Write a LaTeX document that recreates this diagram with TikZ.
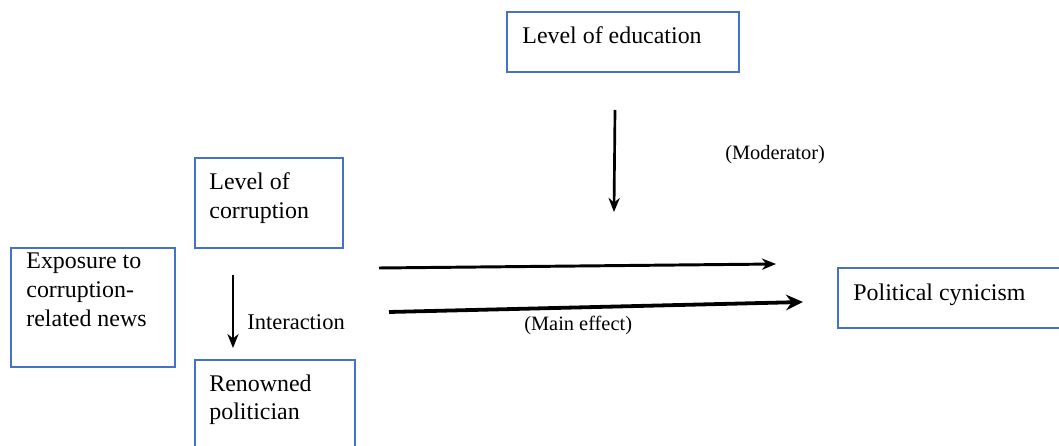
\documentclass[tikz,border=0pt]{standalone}
\usepackage{fontspec}
\setmainfont{Liberation Serif}
\usepackage{tikz}
\usetikzlibrary{arrows.meta,positioning}
\definecolor{boxblue}{RGB}{68,114,196}
\tikzstyle{var box} = [rectangle, draw=boxblue, line width=1.2pt]
\tikzstyle{var text} = [inner sep=0pt, anchor=north west, align=left, font=\fontsize{17}{20.6}\selectfont]
\tikzstyle{small text} = [inner sep=0pt, anchor=base west, font=\fontsize{14.5}{16}\selectfont]
\tikzstyle{arrow} = [->,>={Stealth[length=10pt,width=8pt]}]

\begin{document}
\begin{tikzpicture}[x=0.025cm, y=-0.025cm]
    \useasboundingbox (0,0) rectangle (1059,446);
    \clip (0,0) rectangle (1059,446);

    % boxes
    \node (edu) [var box, minimum width=5.8cm, minimum height=1.5cm] at (623,42) { };
    \node (edut) [var text] at ([shift={(16,15)}]edu.north west) {Level of education};
    \node (corr) [var box, minimum width=3.7cm, minimum height=2.25cm] at (269,203) { };
    \node (corrt) [var text] at ([shift={(15,15)}]corr.north west) {Level of\\corruption};
    \node (expo) [var box, minimum width=4.1cm, minimum height=2.975cm] at (93,307.5) { };
    \node (expot) [var text] at ([shift={(16,5)}]expo.north west) {Exposure to\\corruption-\\related news};
    \node (ren) [var box, minimum width=4cm, minimum height=2.875cm] at (275,417.5) { };
    \node (rent) [var text] at ([shift={(15,15)}]ren.north west) {Renowned\\politician};
    \node (cyn) [var box, minimum width=5.925cm, minimum height=1.5cm] at (956.5,298) { };
    \node (cynt) [var text] at ([shift={(16,16)}]cyn.north west) {Political cynicism};

    % labels
    \node (inter) [small text, font=\fontsize{16}{18}\selectfont] at (247,329) {Interaction};
    \node (moder) [small text] at (725,160) {(Moderator)};
    \node (main) [small text] at (524,330) {(Main effect)};

    % arrows
    \coordinate (eduA) at (615,110);
    \coordinate (eduB) at (614,212);
    \coordinate (upA) at (379,268);
    \coordinate (upB) at (776,264);
    \coordinate (lowA) at (389,312);
    \coordinate (lowB) at (803,302);
    \coordinate (intA) at (233,275);
    \coordinate (intB) at (233,348);
    \draw[arrow, line width=1.9pt] (eduA) -- (eduB);
    \draw[arrow, line width=2.1pt] (upA) -- (upB);
    \draw[arrow, line width=2.7pt, >={Stealth[length=12pt,width=11pt]}] (lowA) -- (lowB);
    \draw[arrow, line width=1.2pt] (intA) -- (intB);

\end{tikzpicture}
\end{document}
